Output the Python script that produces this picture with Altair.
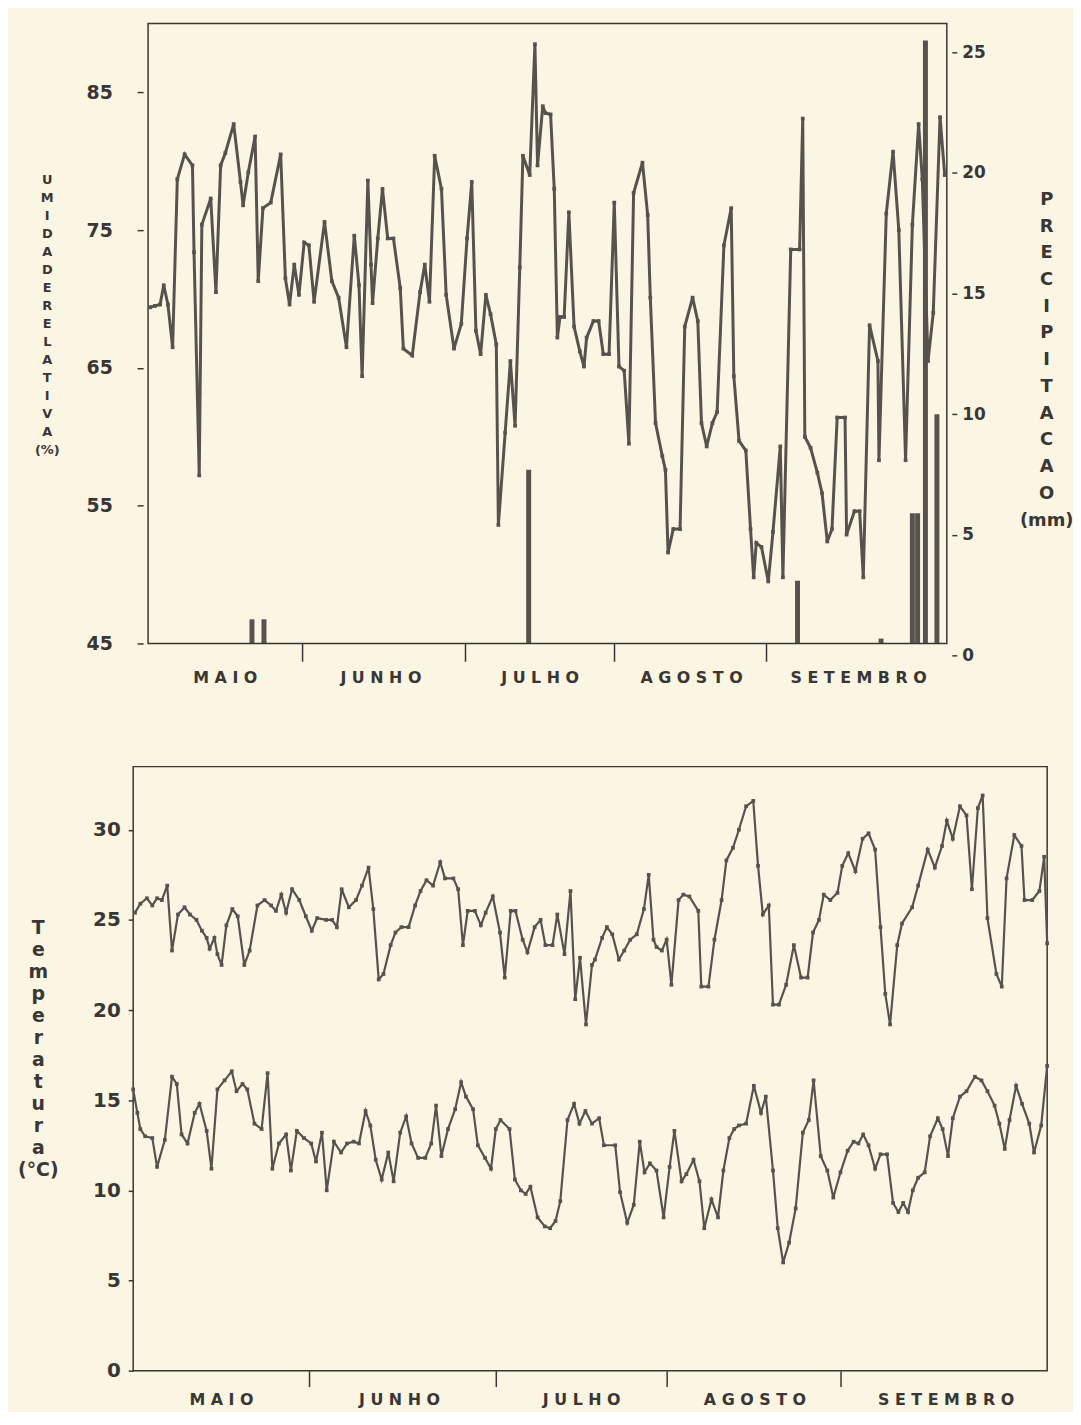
import altair as alt
import pandas as pd

FONT = "DejaVu Sans"
INK = "#3a3633"
LINE = "#57524e"
BG = "#FBF5E3"

# ---------------- dados (dia contado a partir de 1 de maio) ----------------
ur_dia = [0.4, 1.3, 2.3, 3.0, 3.8, 4.7, 5.6, 7.0, 8.5, 8.8, 9.8, 10.3, 12.0, 13.0, 13.9,
          14.8, 16.4, 17.7, 18.2, 19.2, 20.5, 21.1, 22.0, 23.5, 25.4, 26.3, 27.1, 28.0,
          28.9, 29.9, 30.8, 31.8, 33.8, 35.2, 36.5, 38.0, 39.5, 40.4, 41.0, 42.1, 42.7,
          43.0, 44.0, 44.9, 45.9, 47.0, 48.3, 48.9, 50.6, 52.1, 53.0, 53.9, 54.9, 56.2,
          57.1, 58.6, 60.0, 61.1, 62.0, 62.8, 63.7, 64.7, 65.6, 66.7, 67.1, 68.4, 69.4,
          70.3, 71.2, 71.8, 73.1, 74.1, 74.6, 75.6, 76.1, 77.1, 77.8, 78.4, 78.9, 79.7,
          80.6, 81.6, 82.7, 83.5, 84.0, 85.3, 86.3, 87.2, 88.3, 89.3, 90.2, 91.2, 92.1,
          93.0, 94.7, 95.7, 96.2, 97.2, 98.5, 99.1, 99.6, 100.6, 101.9, 102.8, 104.3,
          105.3, 106.0, 107.0, 108.1, 109.0, 110.3, 111.7, 112.2, 113.2, 114.5, 115.4,
          116.0, 116.5, 117.5, 118.8, 119.7, 121.1, 121.6, 123.1, 124.8, 125.4, 125.8,
          126.9, 128.2, 129.1, 130.1, 131.0, 132.0, 133.5, 133.8, 135.3, 136.3, 137.0,
          138.2, 139.8, 140.0, 141.4, 142.7, 143.8, 145.1, 146.4, 147.6, 148.3, 149.4,
          150.4, 151.7, 152.6]
ur_val = [69.4, 69.5, 69.6, 71.0, 69.6, 66.5, 78.7, 80.5, 79.7, 73.4, 57.2, 75.4, 77.3, 70.5,
          79.7, 80.6, 82.7, 78.5, 76.8, 79.2, 81.8, 71.3, 76.6, 77.0, 80.5, 71.5, 69.6,
          72.5, 70.3, 74.1, 73.9, 69.8, 75.6, 71.3, 70.1, 66.5, 74.6, 71.0, 64.4, 78.6,
          72.5, 69.7, 74.4, 78.0, 74.4, 74.4, 70.8, 66.4, 65.9, 70.5, 72.5, 69.8, 80.4,
          78.0, 70.3, 66.4, 68.2, 74.4, 78.5, 67.7, 66.0, 70.3, 68.9, 66.7, 53.6, 60.3,
          65.5, 60.8, 72.3, 80.4, 79.0, 88.5, 79.7, 84.0, 83.5, 83.4, 78.0, 67.2, 68.7,
          68.7, 76.3, 68.0, 66.2, 65.1, 67.2, 68.4, 68.4, 66.0, 66.0, 77.0, 65.1, 64.8,
          59.5, 77.7, 79.9, 76.1, 70.1, 61.0, 58.6, 57.6, 51.6, 53.3, 53.3, 68.0, 70.1,
          68.4, 61.0, 59.3, 61.0, 61.8, 73.9, 76.6, 64.4, 59.7, 59.0, 53.3, 49.8, 52.3,
          52.0, 49.5, 53.1, 59.3, 49.8, 73.6, 73.6, 83.1, 60.0, 59.2, 57.4, 55.9, 52.4,
          53.3, 61.4, 61.4, 52.9, 54.6, 54.6, 49.8, 68.1, 65.5, 58.3, 76.2, 80.7, 75.0,
          58.3, 75.4, 82.7, 78.7, 65.5, 69.0, 83.2, 79.0]

prec_dia = [19.9, 22.2, 72.9, 124.4, 140.4, 146.4, 147.4, 148.9, 151.1]
prec_mm = [1.0, 1.0, 7.2, 2.6, 0.2, 5.4, 5.4, 25.0, 9.5]

tmax_dia = [0.3, 1.2, 2.3, 3.2, 4.0, 4.8, 5.7, 6.5, 7.5, 8.6, 9.5, 10.6, 11.5, 12.3, 12.8,
            13.6, 14.1, 14.8, 15.6, 16.6, 17.5, 18.6, 19.5, 20.8, 22.0, 23.1, 23.9, 24.8,
            25.6, 26.6, 27.8, 28.9, 29.9, 30.8, 32.3, 33.3, 34.1, 34.9, 36.1, 37.3, 38.3,
            39.4, 40.2, 41.1, 41.9, 43.1, 43.9, 44.9, 46.1, 47.2, 48.1, 49.1, 50.2, 51.4,
            52.2, 53.6, 54.4, 55.2, 56.0, 57.2, 58.2, 59.0, 60.2, 61.4, 62.2, 63.2, 64.0,
            65.2, 66.0, 67.2, 68.2, 69.0, 70.2, 71.0, 72.2, 73.2, 74.0, 74.8, 75.8, 76.8,
            77.3, 78.5, 79.3, 80.2, 81.3, 82.2, 83.2, 84.3, 85.5, 86.3, 87.1, 87.6, 88.5,
            89.3, 90.1, 91.3, 92.1, 93.1, 94.6, 95.1, 96.3, 97.3, 98.5, 99.3, 100.4, 101.4,
            102.6, 103.8, 104.6, 105.4, 106.4, 107.1, 108.1, 109.3, 110.6, 111.8, 112.9,
            113.8, 114.8, 115.6, 116.7, 117.9, 118.7, 119.7, 120.9, 122.1, 123.1, 124.2,
            125.1, 125.9, 126.7, 127.9, 128.7, 130.4, 131.4, 133.0, 134.2, 135.4, 136.2,
            137.2, 138.4, 139.5, 140.4, 141.4, 142.2, 143.0, 144.5, 145.4, 146.2, 147.5,
            148.7, 149.2, 150.5, 151.7, 152.5, 153.0]
tmax_val = [25.4, 25.9, 26.2, 25.8, 26.2, 26.1, 26.9, 23.3, 25.3, 25.7, 25.3, 25.0, 24.4, 24.0,
            23.4, 24.0, 23.1, 22.5, 24.7, 25.6, 25.2, 22.5, 23.3, 25.8, 26.1, 25.8, 25.5,
            26.4, 25.4, 26.7, 26.1, 25.2, 24.4, 25.1, 25.0, 25.0, 24.6, 26.7, 25.7, 26.1,
            26.9, 27.9, 25.6, 21.7, 22.0, 23.6, 24.3, 24.6, 24.6, 25.8, 26.6, 27.2, 26.9,
            28.2, 27.3, 27.3, 26.7, 23.6, 25.5, 25.5, 24.7, 25.4, 26.3, 24.3, 21.8, 25.5,
            25.5, 23.9, 23.2, 24.6, 25.0, 23.6, 23.6, 25.3, 23.1, 26.6, 20.6, 22.9, 19.2,
            22.5, 22.8, 24.0, 24.6, 24.2, 22.8, 23.3, 23.9, 24.2, 25.6, 27.5, 23.9, 23.5,
            23.3, 23.9, 21.4, 26.1, 26.4, 26.3, 25.5, 21.3, 21.3, 23.9, 26.1, 28.3, 29.0,
            30.0, 31.3, 31.6, 28.0, 25.3, 25.8, 20.3, 20.3, 21.4, 23.6, 21.8, 21.8, 24.3,
            25.0, 26.4, 26.1, 26.5, 28.0, 28.7, 27.7, 29.5, 29.8, 28.9, 24.6, 20.9, 19.2,
            23.6, 24.8, 25.7, 26.9, 28.9, 27.9, 29.1, 30.5, 29.5, 31.3, 30.8, 26.7, 31.2,
            31.9, 25.1, 22.0, 21.3, 27.3, 29.7, 29.1, 26.1, 26.1, 26.6, 28.5, 23.7]

tmin_dia = [0.0, 0.7, 1.2, 2.0, 3.2, 4.0, 5.3, 6.5, 7.3, 8.1, 9.1, 10.3, 11.1, 12.3, 13.1,
            14.1, 15.3, 16.5, 17.3, 18.3, 19.1, 20.3, 21.5, 22.5, 23.3, 24.4, 25.6, 26.4,
            27.4, 28.6, 29.8, 30.6, 31.6, 32.4, 33.6, 34.8, 35.8, 36.9, 37.8, 38.9, 39.7,
            40.6, 41.6, 42.7, 43.6, 44.7, 45.7, 46.6, 47.7, 48.9, 49.9, 50.7, 51.6, 52.7,
            53.9, 54.9, 55.7, 56.9, 57.7, 58.9, 59.9, 60.7, 61.5, 63.0, 63.9, 64.9, 65.7,
            66.5, 67.7, 68.9, 69.8, 70.7, 71.5, 72.7, 73.8, 74.7, 75.7, 76.8, 78.0, 78.8,
            80.7, 81.5, 82.7, 83.8, 84.8, 85.6, 86.5, 87.6, 88.8, 89.8, 90.6, 91.8, 92.6,
            93.8, 94.8, 95.6, 96.8, 97.9, 98.8, 99.8, 100.6, 101.4, 102.6, 103.9, 105.1,
            105.9, 107.1, 107.9, 108.8, 109.8, 110.9, 112.1, 113.1, 113.9, 115.1, 116.2,
            117.2, 118.4, 119.6, 120.6, 121.4, 122.2, 123.1, 124.2, 125.1, 126.2, 127.2,
            128.1, 128.9, 129.7, 130.5, 131.4, 132.5, 133.4, 134.7, 135.5, 136.4, 137.2,
            138.4, 139.5, 140.9, 142.0, 143.0, 144.2, 145.0, 145.9, 146.7, 147.8, 148.8,
            150.0, 150.8, 152.0, 153.0]
tmin_val = [15.6, 14.3, 13.4, 13.0, 12.9, 11.3, 12.8, 16.3, 15.9, 13.1, 12.6, 14.3, 14.8, 13.3,
            11.2, 15.6, 16.1, 16.6, 15.5, 15.9, 15.6, 13.7, 13.4, 16.5, 11.2, 12.6, 13.1,
            11.1, 13.3, 12.9, 12.6, 11.6, 13.2, 10.0, 12.7, 12.1, 12.6, 12.7, 12.6, 14.4,
            13.6, 11.7, 10.6, 12.1, 10.5, 13.2, 14.1, 12.6, 11.8, 11.8, 12.6, 14.7, 11.9,
            13.4, 14.5, 16.0, 15.2, 14.5, 12.5, 11.8, 11.2, 13.4, 13.9, 13.4, 10.6, 10.0,
            9.8, 10.2, 8.5, 8.0, 7.9, 8.3, 9.4, 13.9, 14.8, 13.7, 14.4, 13.7, 14.0, 12.5,
            12.5, 9.9, 8.2, 9.2, 12.7, 11.0, 11.5, 11.1, 8.5, 11.3, 13.3, 10.5, 10.9, 11.7,
            10.5, 7.9, 9.5, 8.5, 11.1, 12.9, 13.4, 13.6, 13.7, 15.8, 14.3, 15.2, 11.1, 7.9,
            6.0, 7.1, 9.0, 13.2, 13.9, 16.1, 11.9, 11.1, 9.6, 11.0, 12.2, 12.7, 12.6, 13.1,
            12.5, 11.2, 12.0, 12.0, 9.3, 8.8, 9.3, 8.8, 10.0, 10.7, 11.0, 13.0, 14.0, 13.4,
            11.9, 14.0, 15.2, 15.5, 16.3, 16.1, 15.5, 14.7, 13.7, 12.3, 13.9, 15.8, 14.8,
            13.7, 12.1, 13.6, 16.9]

meses = ["MAIO", "JUNHO", "JULHO", "AGOSTO", "SETEMBRO"]
meses_centro = [14.7, 44.5, 75.0, 104.0, 136.0]
meses_limite = [29.5, 60.7, 89.3, 118.4]
dias_dominio = [0, 153]
ur_dominio = [45, 90]
prec_dominio = [0, 25.7]
temp_dominio = [0, 33.5]
ur_ticks = [45, 55, 65, 75, 85]
prec_ticks = [0, 5, 10, 15, 20, 25]
temp_ticks = [0, 5, 10, 15, 20, 25, 30]

# ---------------- tabelas ----------------
df_ur = pd.DataFrame({"dia": ur_dia, "ur": ur_val})
df_prec = pd.DataFrame({"dia": prec_dia, "mm": prec_mm})
df_temp = pd.concat([
    pd.DataFrame({"dia": tmax_dia, "t": tmax_val, "serie": "max"}),
    pd.DataFrame({"dia": tmin_dia, "t": tmin_val, "serie": "min"}),
])
df_quadro_ur = pd.DataFrame({"x0": [dias_dominio[0]], "x1": [dias_dominio[1]],
                             "y0": [ur_dominio[0]], "y1": [ur_dominio[1]]})
df_quadro_t = pd.DataFrame({"x0": [dias_dominio[0]], "x1": [dias_dominio[1]],
                            "y0": [temp_dominio[0]], "y1": [temp_dominio[1]]})

label_expr = " : ".join(
    f"datum.value == {c} ? '{' '.join(m)}'" for m, c in zip(meses, meses_centro)
) + " : ''"
tick_test = "indexof([" + ",".join(str(v) for v in meses_limite) + "], datum.value) < 0"


def eixo_x(tick_size, pad):
    return alt.Axis(
        values=meses_limite + meses_centro, labelExpr=label_expr,
        tickOpacity={"condition": {"test": tick_test, "value": 0}, "value": 1},
        tickSize=tick_size, tickWidth=1.5, tickColor=INK, domain=False, grid=False,
        title=None, labelFont=FONT, labelFontSize=16, labelFontWeight="bold",
        labelColor=INK, labelPadding=pad, labelBaseline="top", labelOverlap=False,
        labelFlush=False,
    )


# painel superior: area de desenho deslocada 10 px para a direita
x_topo = alt.Scale(domain=dias_dominio, range=[10, 824], nice=False, zero=False)
x_base = alt.Scale(domain=dias_dominio, nice=False, zero=False)
ponto = alt.OverlayMarkDef(shape="square", size=14, filled=True, color=LINE)

ur_titulo = list("UMIDADE") + [""] + list("RELATIVA") + ["", "(%)"]
prec_titulo = list("PRECIPITACAO") + ["", "(mm)"]
temp_titulo = list("Temperatura") + ["", "(°C)"]

y_ur = alt.Scale(domain=ur_dominio, nice=False, zero=False)

ur_line = alt.Chart(df_ur).mark_line(color=LINE, strokeWidth=3, point=ponto).encode(
    x=alt.X("dia:Q", scale=x_topo, axis=eixo_x(18, 8)),
    y=alt.Y("ur:Q", scale=y_ur,
            axis=alt.Axis(orient="left", offset=-10, values=ur_ticks, tickSize=6,
                          tickWidth=1.5, tickColor=INK, domain=False, grid=False,
                          labelFont=FONT, labelFontSize=19, labelFontWeight="bold",
                          labelColor=INK, labelPadding=25, title=ur_titulo, titleAngle=0,
                          titleAlign="center", titleBaseline="middle", titleX=-97,
                          titleY=157, titleFont=FONT, titleFontSize=13,
                          titleFontWeight="bold", titleColor=INK, titleLineHeight=18.1)),
)

quadro_ur = alt.Chart(df_quadro_ur).mark_rect(
    fillOpacity=0, stroke=INK, strokeWidth=1.5).encode(
    x=alt.X("x0:Q", scale=x_topo, axis=eixo_x(18, 8)), x2="x1:Q",
    y=alt.Y("y0:Q", scale=y_ur), y2="y1:Q",
)

prec_bar = alt.Chart(df_prec).mark_bar(color=LINE, size=5).encode(
    x=alt.X("dia:Q", scale=x_topo, axis=eixo_x(18, 8)),
    y=alt.Y("mm:Q", scale=alt.Scale(domain=prec_dominio, nice=False),
            axis=alt.Axis(orient="right", values=prec_ticks, tickSize=5, tickWidth=1.5,
                          tickColor=INK, tickOffset=12, domain=False, grid=False,
                          labelFont=FONT, labelFontSize=17, labelFontWeight="bold",
                          labelColor=INK, labelPadding=5, title=prec_titulo,
                          titleAngle=0, titleAlign="center", titleBaseline="middle",
                          titleX=95, titleY=177, titleFont=FONT, titleFontSize=18,
                          titleFontWeight="bold", titleColor=INK, titleLineHeight=26.9)),
)

topo = alt.layer(prec_bar, alt.layer(quadro_ur, ur_line)).resolve_scale(
    y="independent").properties(width=824, height=624)

y_t = alt.Scale(domain=temp_dominio, nice=False)

temp = alt.Chart(df_temp).mark_line(color=LINE, strokeWidth=2.2, point=ponto).encode(
    x=alt.X("dia:Q", scale=x_base, axis=eixo_x(16, 5)),
    y=alt.Y("t:Q", scale=y_t,
            axis=alt.Axis(orient="left", values=temp_ticks, tickSize=5, tickWidth=1.5,
                          tickColor=INK, domain=False, grid=False, labelFont=FONT,
                          labelFontSize=20, labelFontWeight="bold", labelColor=INK,
                          labelPadding=8, title=temp_titulo, titleAngle=0,
                          titleAlign="center", titleBaseline="middle", titleX=-96,
                          titleY=162, titleFont=FONT, titleFontSize=19,
                          titleFontWeight="bold", titleColor=INK, titleLineHeight=22.1)),
    detail="serie:N",
)

quadro_t = alt.Chart(df_quadro_t).mark_rect(
    fillOpacity=0, stroke=INK, strokeWidth=1.5).encode(
    x=alt.X("x0:Q", scale=x_base, axis=eixo_x(16, 5)), x2="x1:Q",
    y=alt.Y("y0:Q", scale=y_t), y2="y1:Q",
)

base = alt.layer(quadro_t, temp).properties(width=920, height=608)

chart = alt.concat(topo, base, columns=1, spacing=81).properties(
    background=BG,
    padding={"left": 9, "top": 10, "right": 0, "bottom": 0},
).configure_view(strokeOpacity=0)

chart.save("out.html", embed_options={"renderer": "svg", "actions": False})
